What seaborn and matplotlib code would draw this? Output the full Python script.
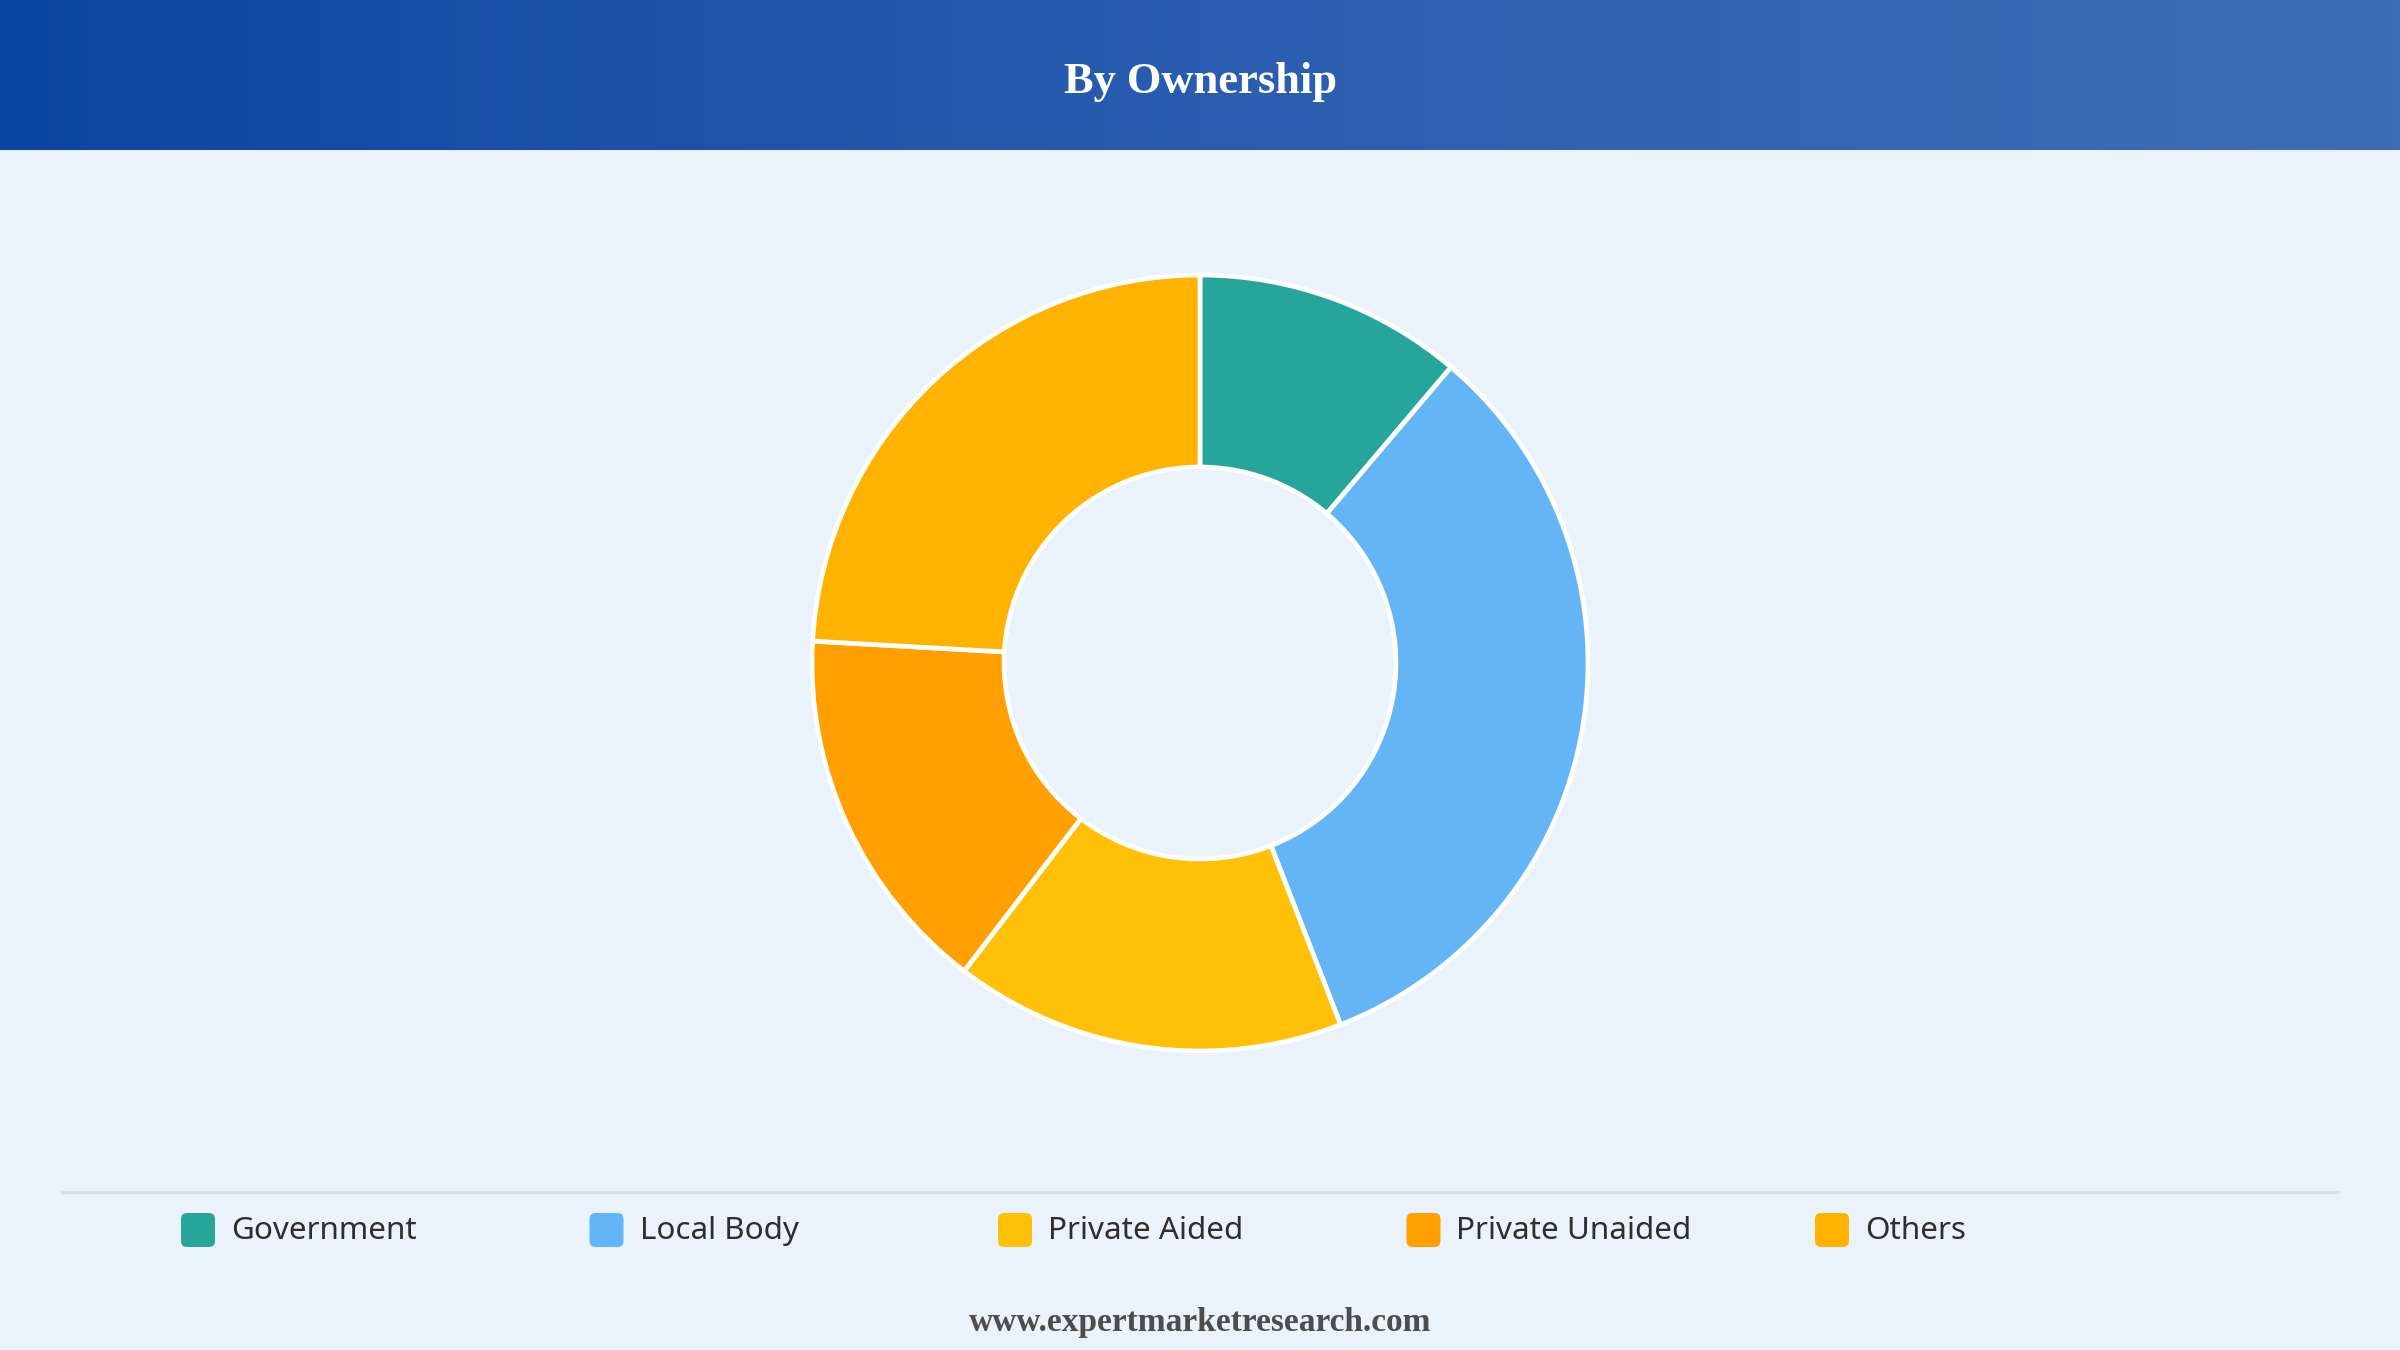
import numpy as np
import seaborn as sns
import matplotlib.pyplot as plt
from matplotlib.colors import LinearSegmentedColormap
from matplotlib.patches import FancyBboxPatch

# chart data
categories = ['Government', 'Local Body', 'Private Aided', 'Private Unaided', 'Others']
shares = [11.2, 32.9, 16.3, 15.5, 24.1]
colours = ['#26A69A', '#64B5F6', '#FFC107', '#FFA000', '#FFB300']
title = 'By Ownership'
footer = 'www.expertmarketresearch.com'

sns.set_theme(style='white')
plt.rcParams['font.family'] = ['Noto Sans', 'DejaVu Sans']

W, H = 2400, 1350
bg = '#EAF2FB'


def main():
	fig = plt.figure(figsize=(W / 100, H / 100), dpi=100, facecolor=bg)

	# header band with gradient
	hdr_h = 150
	hax = fig.add_axes([0, 1 - hdr_h / H, 1, hdr_h / H])
	cmap = LinearSegmentedColormap.from_list('hdr', ['#0C45A1', '#2A5DB0', '#3E6DB6'])
	hax.imshow(np.linspace(0, 1, 256)[None, :], aspect='auto', cmap=cmap, extent=(0, 1, 0, 1))
	hax.set_axis_off()
	hax.text(0.5, 0.45, title, ha='center', va='center', color='white', fontsize=32,
		fontweight='bold', family='Liberation Serif')

	# donut
	cx, cy, r = 1200, 663, 388
	side = 2 * r
	pax = fig.add_axes([(cx - r) / W, 1 - (cy + r) / H, side / W, side / H])
	pax.pie(shares, colors=colours, startangle=90, counterclock=False,
		wedgeprops=dict(width=0.495, edgecolor='white', linewidth=3.4))
	pax.set_xlim(-1, 1)
	pax.set_ylim(-1, 1)
	pax.set_aspect('equal')
	pax.set_axis_off()

	# overlay in pixel coordinates for legend and footer
	oax = fig.add_axes([0, 0, 1, 1], facecolor='none')
	oax.set_xlim(0, W)
	oax.set_ylim(H, 0)
	oax.set_axis_off()

	oax.plot([61, 2339], [1192, 1192], color='#DCDFE3', lw=2.2, solid_capstyle='butt')

	x0, step, ly, sq = 181, 408.5, 1230, 34
	for i, (name, col) in enumerate(zip(categories, colours)):
		x = x0 + i * step
		oax.add_patch(FancyBboxPatch((x, ly - sq / 2), sq, sq,
			boxstyle='round,pad=0,rounding_size=6', facecolor=col, edgecolor='none'))
		oax.text(x + sq + 16, ly + 1, name, ha='left', va='center', fontsize=22.6, color='#2E2E2E')

	oax.text(1200, 1322, footer, ha='center', va='center', fontsize=24, fontweight='bold',
		color='#4D4D4D', family='Liberation Serif')

	plt.savefig('out.png', dpi=100, facecolor=bg)


if __name__ == '__main__':
	main()
